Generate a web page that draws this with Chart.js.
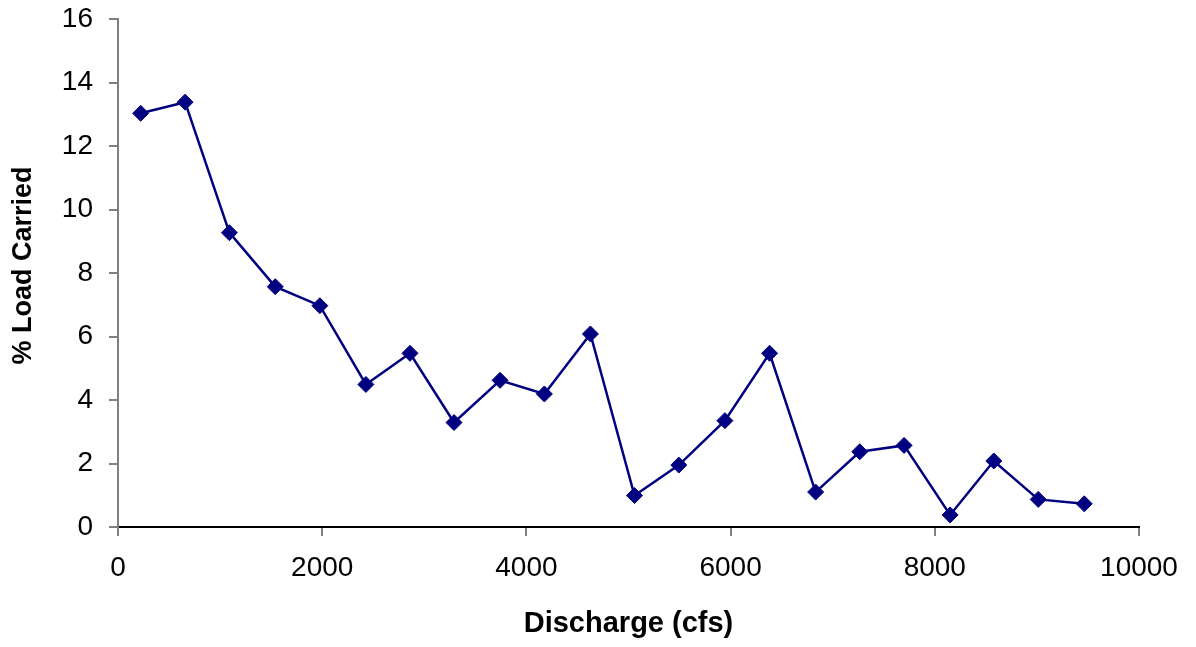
<!DOCTYPE html>
<html>
<head>
<meta charset="utf-8">
<script src="https://cdn.jsdelivr.net/npm/chart.js@4/dist/chart.umd.min.js"></script>
<style>
  html, body { margin: 0; padding: 0; background: #ffffff; }
  #wrap { width: 1196px; height: 647px; }
</style>
</head>
<body>
<div id="wrap"><canvas id="c" width="1196" height="647"></canvas></div>
<script>
const discharge = [222, 657, 1091, 1540, 1977, 2428, 2860, 3291, 3742, 4176, 4627, 5059, 5493, 5944, 6382, 6833, 7265, 7699, 8150, 8578, 9013, 9464];
const loadCarried = [13.03, 13.38, 9.27, 7.57, 6.97, 4.49, 5.47, 3.29, 4.62, 4.19, 6.08, 0.99, 1.95, 3.35, 5.47, 1.10, 2.37, 2.57, 0.38, 2.08, 0.87, 0.73];
const xTitle = 'Discharge (cfs)';
const yTitle = '% Load Carried';

const points = discharge.map((x, i) => ({ x: x, y: loadCarried[i] }));

new Chart(document.getElementById('c'), {
  type: 'scatter',
  data: {
    datasets: [{
      data: points,
      showLine: true,
      borderColor: '#000080',
      backgroundColor: '#000080',
      borderWidth: 2.5,
      pointStyle: 'rectRot',
      pointRadius: 8,
      pointHoverRadius: 8,
      pointBorderWidth: 1,
      pointBorderColor: '#000080',
      pointBackgroundColor: '#000080',
      tension: 0
    }]
  },
  options: {
    responsive: false,
    animation: false,
    devicePixelRatio: 1,
    layout: { padding: { top: 19, right: 57, left: 0, bottom: 0 } },
    plugins: { legend: { display: false }, tooltip: { enabled: false } },
    scales: {
      x: {
        type: 'linear',
        min: 0, max: 10000,
        afterFit: (s) => { s.height = 120; s.paddingLeft = 0; s.paddingRight = 0; },
        border: { display: true, color: '#000000', width: 2 },
        grid: { drawOnChartArea: false, drawTicks: true, tickLength: 9, color: '#808080', lineWidth: 2 },
        ticks: { stepSize: 2000, padding: 15, color: '#000000', font: { family: 'Liberation Sans', size: 28 }, maxRotation: 0, callback: (v) => String(v) },
        title: { display: true, text: xTitle, color: '#000000', font: { family: 'Liberation Sans', size: 29, weight: 'bold' }, padding: { top: 0, bottom: 6 } }
      },
      y: {
        type: 'linear',
        min: 0, max: 16,
        afterFit: (s) => { s.width = 118; s.paddingTop = 0; s.paddingBottom = 0; },
        border: { display: true, color: '#808080', width: 2 },
        grid: { drawOnChartArea: false, drawTicks: true, tickLength: 9, color: '#808080', lineWidth: 2 },
        ticks: { stepSize: 2, padding: 16, color: '#000000', font: { family: 'Liberation Sans', size: 28 }, callback: (v) => String(v) },
        title: { display: true, text: '  ' + yTitle, color: '#000000', font: { family: 'Liberation Sans', size: 27, weight: 'bold' }, padding: { top: 7, bottom: 0 } }
      }
    }
  }
});
</script>
</body>
</html>
